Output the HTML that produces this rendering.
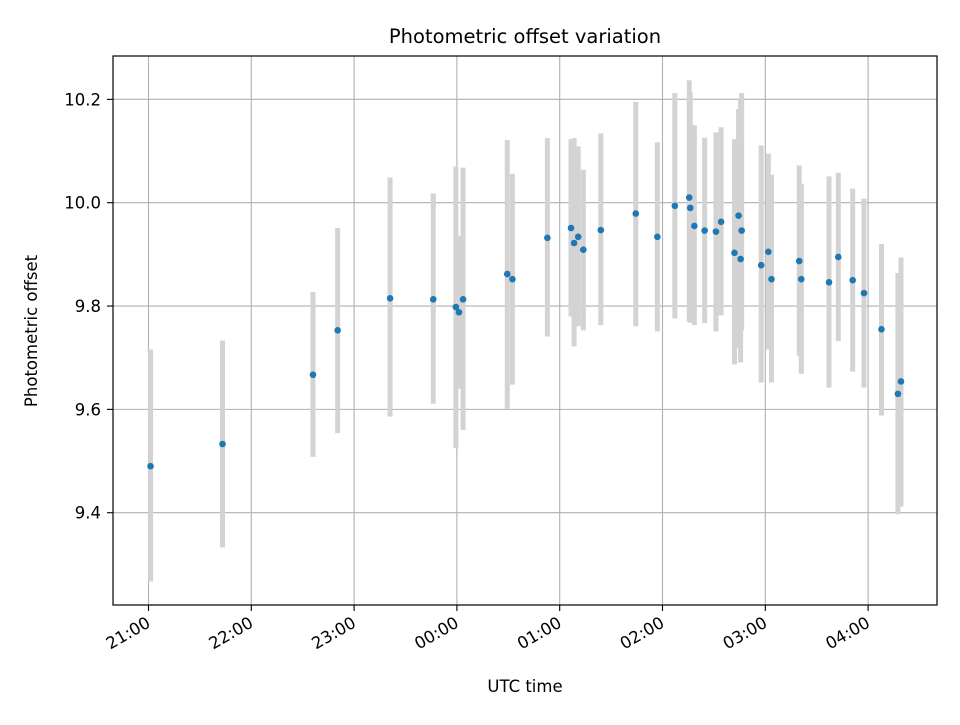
<!DOCTYPE html>
<html><head><meta charset="utf-8"><style>
body{margin:0;background:#fff}
svg text{font-family:"DejaVu Sans","Liberation Sans",sans-serif;fill:#000}
</style></head><body>
<svg id="chart" width="960" height="720" xmlns="http://www.w3.org/2000/svg">
<rect width="960" height="720" fill="#fff"/>
<g id="grid"></g>
<g id="bars"></g>
<g id="pts"></g>
<rect x="113" y="56" width="824" height="549" fill="none" stroke="#000" stroke-width="1.2"/>
<g id="ticks"></g>
<text x="525" y="43" font-size="19.5" text-anchor="middle">Photometric offset variation</text>
<text x="525" y="692" font-size="16.5" text-anchor="middle">UTC time</text>
<text transform="translate(37,331) rotate(-90)" font-size="16.5" text-anchor="middle">Photometric offset</text>
</svg>
<script>
// hours after 21:00 UTC
const times=[0.02,0.72,1.60,1.84,2.35,2.77,2.99,3.02,3.06,3.49,3.54,3.88,4.11,4.14,4.18,4.23,4.40,4.74,4.95,5.12,5.26,5.27,5.31,5.41,5.52,5.57,5.70,5.74,5.76,5.77,5.96,6.03,6.06,6.33,6.35,6.62,6.71,6.85,6.96,7.13,7.29,7.32];
const values=[9.490,9.533,9.667,9.753,9.815,9.813,9.798,9.788,9.813,9.862,9.852,9.932,9.951,9.922,9.934,9.909,9.947,9.979,9.934,9.994,10.010,9.990,9.955,9.946,9.944,9.963,9.903,9.975,9.891,9.946,9.879,9.905,9.852,9.887,9.852,9.846,9.895,9.850,9.825,9.755,9.630,9.654];
const upper=[9.716,9.733,9.827,9.951,10.049,10.018,10.070,9.936,10.068,10.121,10.056,10.125,10.123,10.125,10.109,10.064,10.134,10.195,10.117,10.212,10.237,10.214,10.150,10.126,10.136,10.146,10.123,10.181,10.200,10.212,10.111,10.095,10.054,10.072,10.037,10.051,10.058,10.027,10.008,9.920,9.864,9.894];
const lower=[9.267,9.333,9.508,9.554,9.586,9.611,9.525,9.640,9.560,9.601,9.648,9.741,9.780,9.722,9.761,9.753,9.763,9.761,9.751,9.776,9.770,9.768,9.763,9.767,9.751,9.782,9.687,9.718,9.691,9.753,9.652,9.716,9.652,9.704,9.669,9.642,9.732,9.673,9.642,9.588,9.397,9.412];
const xTickLabels=["21:00","22:00","23:00","00:00","01:00","02:00","03:00","04:00"];
const yTickValues=[9.4,9.6,9.8,10.0,10.2];
const yTickLabels=["9.4","9.6","9.8","10.0","10.2"];

const NS="http://www.w3.org/2000/svg";
const xs=h=>148.5+h*102.8;
const ys=v=>202.7-(v-10)*516.7;
function mk(tag,attrs,parent){const e=document.createElementNS(NS,tag);for(const k in attrs)e.setAttribute(k,attrs[k]);parent.appendChild(e);return e;}
const grid=document.getElementById('grid'),ticks=document.getElementById('ticks'),bars=document.getElementById('bars'),pts=document.getElementById('pts');
xTickLabels.forEach((lab,i)=>{
  const x=xs(i);
  const g=mk('line',{x1:x,x2:x,y1:56,y2:605,stroke:'#b0b0b0','stroke-width':1.1},grid);
  
  
  const t=mk('line',{x1:x,x2:x,y1:605,y2:611,stroke:'#000','stroke-width':1.1},ticks);
  
  
  const tx=mk('text',{x:0,y:0,'font-size':16.5,'text-anchor':'end',transform:`translate(${x+3},${626}) rotate(-30)`},ticks);
  tx.textContent=lab;
  
  
});
yTickValues.forEach((v,i)=>{
  const y=ys(v);
  const g=mk('line',{x1:113,x2:937,y1:y,y2:y,stroke:'#b0b0b0','stroke-width':1.1},grid);
  
  
  const t=mk('line',{x1:107,x2:113,y1:y,y2:y,stroke:'#000','stroke-width':1.1},ticks);
  
  
  const tx=mk('text',{x:101,y:y+6,'font-size':16.5,'text-anchor':'end'},ticks);
  tx.textContent=yTickLabels[i];
  
  
});
times.forEach((h,i)=>{
  const x=xs(h);
  const b=mk('line',{x1:x,x2:x,y1:ys(upper[i]),y2:ys(lower[i]),stroke:'#d3d3d3','stroke-width':5},bars);
  
  
});
times.forEach((h,i)=>{
  const c=mk('circle',{cx:xs(h),cy:ys(values[i]),r:3.3,fill:'#1f77b4'},pts);
  
  
});
</script>
</body></html>
